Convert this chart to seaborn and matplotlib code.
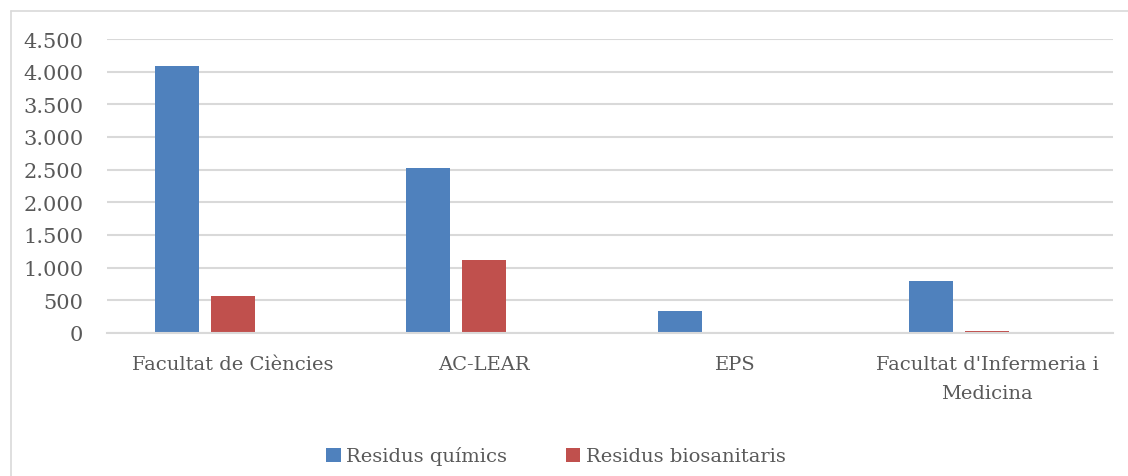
import matplotlib
matplotlib.use("Agg")
import matplotlib.pyplot as plt
import seaborn as sns
import pandas as pd
from matplotlib.lines import Line2D
from matplotlib.patches import Patch
from matplotlib.ticker import FuncFormatter

categories = ["Facultat de Ciències", "AC-LEAR", "EPS", "Facultat d'Infermeria i\nMedicina"]
quimics = [4090, 2530, 340, 800]
biosanitaris = [560, 1120, 0, 38]
series_names = ["Residus químics", "Residus biosanitaris"]
y_ticks = [0, 500, 1000, 1500, 2000, 2500, 3000, 3500, 4000, 4500]

sns.set_theme(style="white")
plt.rcParams['font.family'] = ['DejaVu Serif']

rows = []
for c, q, b in zip(categories, quimics, biosanitaris):
    rows.append({"cat": c, "serie": series_names[0], "val": q})
    rows.append({"cat": c, "serie": series_names[1], "val": b})
df = pd.DataFrame(rows)

W, H = 1128, 477
fig = plt.figure(figsize=(W / 100, H / 100), dpi=100)
fig.patch.set_facecolor("white")
# outer chart frame (left and top edges only are visible)
fig.lines.append(Line2D([10.5 / W, 10.5 / W], [0, 1 - 11.5 / H], transform=fig.transFigure,
                        color="#D9D9D9", linewidth=1.2))
fig.lines.append(Line2D([10.5 / W, 1], [1 - 11.5 / H, 1 - 11.5 / H], transform=fig.transFigure,
                        color="#D9D9D9", linewidth=1.2))

ax = fig.add_axes([107 / W, 1 - 334 / H, (1113 - 107) / W, (334 - 40) / H])
palette = {series_names[0]: "#4F81BD", series_names[1]: "#C0504D", "": "#9BBB59"}
sns.barplot(data=df, x="cat", y="val", hue="serie", hue_order=series_names + [""],
            order=categories, palette=palette, width=0.668, gap=0.22,
            linewidth=0, edgecolor="none", saturation=1, errorbar=None, legend=False, ax=ax)

ax.set_ylim(0, 4500)
ax.set_yticks(y_ticks)
ax.yaxis.set_major_formatter(FuncFormatter(lambda v, p: f"{int(v):,}".replace(",", ".")))
ax.grid(axis="y", color="#D9D9D9", linewidth=1.5)
ax.set_axisbelow(True)
for s in ["top", "right", "left"]:
    ax.spines[s].set_visible(False)
ax.spines["bottom"].set_color("#D9D9D9")
ax.spines["bottom"].set_linewidth(1.5)
ax.tick_params(axis="y", length=0, labelsize=15, colors="#595959", pad=17)
ax.tick_params(axis="x", length=0, labelsize=14, colors="#595959", pad=16)
for lab in ax.get_xticklabels():
    lab.set_linespacing(1.8)
ax.set_xlabel("")
ax.set_ylabel("")

handles = [Patch(facecolor=palette[n], edgecolor="none") for n in series_names]
fig.legend(handles, series_names, loc="center", bbox_to_anchor=(556 / W, 1 - 457 / H), ncol=2,
           frameon=False, fontsize=14, labelcolor="#595959", handlelength=0.75, handleheight=0.75,
           handletextpad=0.3, columnspacing=3.0)

fig.savefig("out.png", dpi=100, facecolor="white")
